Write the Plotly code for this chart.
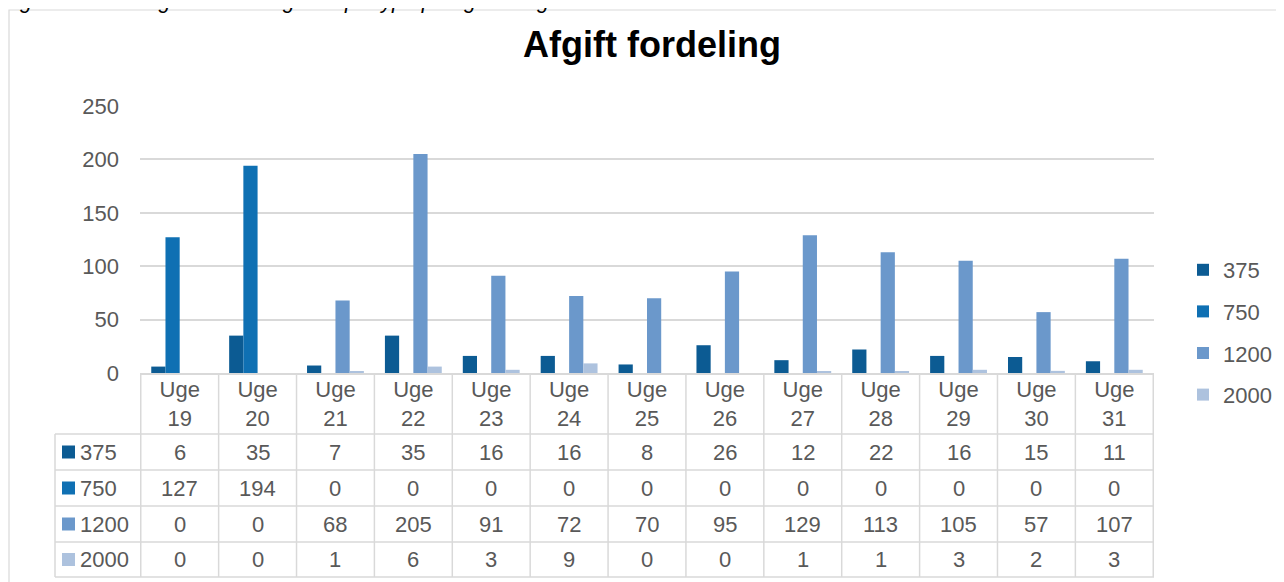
import plotly.graph_objects as go

# ---------------- data ----------------
weeks = ["Uge 19", "Uge 20", "Uge 21", "Uge 22", "Uge 23", "Uge 24", "Uge 25",
         "Uge 26", "Uge 27", "Uge 28", "Uge 29", "Uge 30", "Uge 31"]
week_labels = ["Uge<br>19", "Uge<br>20", "Uge<br>21", "Uge<br>22", "Uge<br>23", "Uge<br>24", "Uge<br>25",
               "Uge<br>26", "Uge<br>27", "Uge<br>28", "Uge<br>29", "Uge<br>30", "Uge<br>31"]
series_names = ["375", "750", "1200", "2000"]
v375 = [6, 35, 7, 35, 16, 16, 8, 26, 12, 22, 16, 15, 11]
v750 = [127, 194, 0, 0, 0, 0, 0, 0, 0, 0, 0, 0, 0]
v1200 = [0, 0, 68, 205, 91, 72, 70, 95, 129, 113, 105, 57, 107]
v2000 = [0, 0, 1, 6, 3, 9, 0, 0, 1, 1, 3, 2, 3]
series_values = [v375, v750, v1200, v2000]
colors = ["#0c5b93", "#0f70b3", "#6b98cb", "#adc2de"]
title_text = "Afgift fordeling"
caption_text = "Figur 5: Fordeling af kontrolafgifter* pr. type pr. uge for ugerne 19 – 31 2020"

# ---------------- layout geometry (window pixels) ----------------
WIN_W, WIN_H = 1284, 582
OFF = 8                 # default page body margin
W, H = WIN_W - OFF, WIN_H - OFF
PL, PR = 140, 1154      # plot area left/right
PT, PB = 106, 373       # plot area top/bottom
FONT = "Liberation Sans, Arial, sans-serif"
GRAY = "#595959"
LINE = "#d9d9d9"
FS = 22


def px2x(p):
    return (p - PL) / (PR - PL)


def px2y(p):
    return (PB - p) / (PB - PT)


fig = go.Figure()
for name, vals, col in zip(series_names, series_values, colors):
    fig.add_trace(go.Bar(
        x=weeks, y=vals, name=name, marker_color=col,
        marker_line_width=0, legendgroup=name,
    ))

shapes = []
annotations = []

# outer frame
shapes.append(dict(type="rect", xref="paper", yref="paper",
                   x0=px2x(9), x1=px2x(1300), y0=px2y(10), y1=px2y(600),
                   line=dict(color=LINE, width=1.2), fillcolor="rgba(0,0,0,0)", layer="below"))

# table geometry
row_bounds = [434, 470, 506, 542, 577]
header_top = PB
for i in range(len(weeks) + 1):
    shapes.append(dict(type="line", xref="x", yref="paper",
                       x0=i - 0.5, x1=i - 0.5, y0=px2y(header_top), y1=px2y(row_bounds[-1]),
                       line=dict(color=LINE, width=1.5)))
shapes.append(dict(type="line", xref="paper", yref="paper",
                   x0=px2x(55), x1=px2x(55), y0=px2y(row_bounds[0]), y1=px2y(row_bounds[-1]),
                   line=dict(color=LINE, width=1.5)))
for rb in row_bounds:
    shapes.append(dict(type="line", xref="paper", yref="paper",
                       x0=px2x(55), x1=px2x(PR), y0=px2y(rb), y1=px2y(rb),
                       line=dict(color=LINE, width=1.5)))

# table rows
for r, (name, vals, col) in enumerate(zip(series_names, series_values, colors)):
    yc = (row_bounds[r] + row_bounds[r + 1]) / 2
    shapes.append(dict(type="rect", xref="paper", yref="paper",
                       x0=px2x(62), x1=px2x(75), y0=px2y(yc - 6.5), y1=px2y(yc + 6.5),
                       line=dict(width=0), fillcolor=col))
    annotations.append(dict(text=name, xref="paper", yref="paper", x=px2x(78), y=px2y(yc),
                            xanchor="left", yanchor="middle", showarrow=False,
                            font=dict(family=FONT, size=FS, color=GRAY)))
    for wk, v in zip(weeks, vals):
        annotations.append(dict(text=str(v), xref="x", yref="paper", x=wk, y=px2y(yc),
                                xanchor="center", yanchor="middle", showarrow=False,
                                font=dict(family=FONT, size=FS, color=GRAY)))

# title
annotations.append(dict(text="<b>%s</b>" % title_text, xref="paper", yref="paper",
                        x=px2x(652), y=px2y(44), xanchor="center", yanchor="middle",
                        showarrow=False, font=dict(family=FONT, size=36, color="#000000")))
# cropped caption
annotations.append(dict(text="<i>%s</i>" % caption_text, xref="paper", yref="paper",
                        x=px2x(0), y=px2y(15), xanchor="left", yanchor="bottom",
                        showarrow=False, font=dict(family=FONT, size=21.5, color="#000000")))

fig.update_layout(
    width=W, height=H,
    margin=dict(l=PL - OFF, r=WIN_W - PR, t=PT - OFF, b=WIN_H - PB, pad=0, autoexpand=False),
    paper_bgcolor="white", plot_bgcolor="white",
    barmode="group", bargap=0.27, bargroupgap=0,
    font=dict(family=FONT, size=FS, color=GRAY),
    showlegend=True,
    legend=dict(x=px2x(1183), y=px2y(249), xanchor="left", yanchor="top",
                orientation="v", tracegroupgap=10, itemwidth=30,
                font=dict(family=FONT, size=FS, color=GRAY),
                bgcolor="rgba(0,0,0,0)"),
    xaxis=dict(type="category", tickvals=weeks, ticktext=week_labels,
               showline=True, linecolor=LINE, linewidth=1.5, ticks="",
               showgrid=False, tickfont=dict(family=FONT, size=FS, color=GRAY),
               ticklabelstandoff=-4, fixedrange=True),
    yaxis=dict(range=[0, 250], dtick=50, showgrid=True, gridcolor=LINE, gridwidth=1.5,
               zeroline=False, showline=False, ticks="", ticklabelstandoff=20,
               tickfont=dict(family=FONT, size=FS, color=GRAY), fixedrange=True),
    shapes=shapes, annotations=annotations,
)

fig.write_html("out.html")
